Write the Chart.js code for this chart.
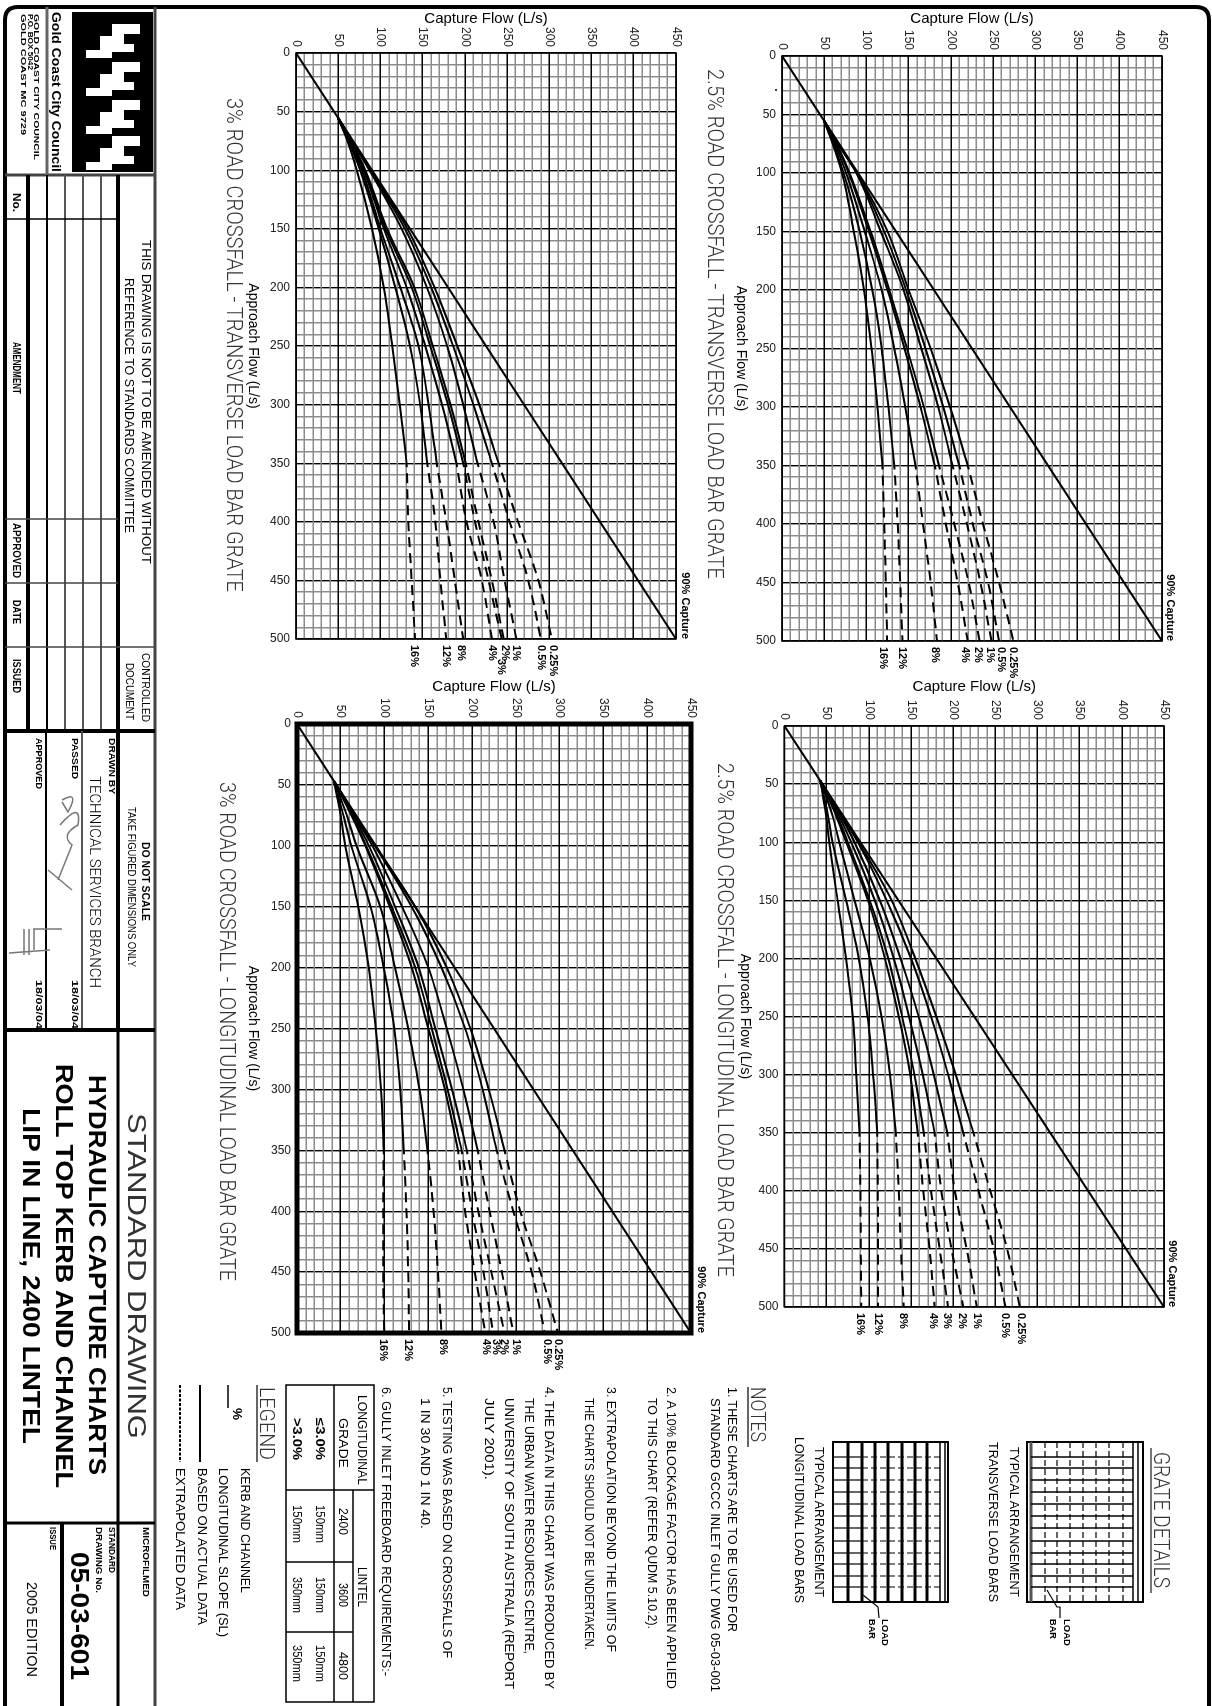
<!DOCTYPE html>
<html>
<head>
<meta charset="utf-8">
<title>Hydraulic capture charts</title>
<script src="https://cdn.jsdelivr.net/npm/chart.js@4/dist/chart.umd.min.js"></script>
<style>
    html, body { margin: 0; padding: 0; background: #fff; overflow: hidden; width: 1212px; height: 1706px; }
    /* the drawing is a landscape sheet turned a quarter turn clockwise */
    #sheet { position: absolute; left: 0; top: 0; width: 1706px; height: 1212px; transform-origin: 0 0; transform: translate(1212px, 0) rotate(90deg); }
    #sheet canvas { position: absolute; }
    #overlay { position: absolute; left: 0; top: 0; }
</style>
</head>
<body>
<div id="sheet">
    <canvas id="chartTR"></canvas>
    <canvas id="chartTL"></canvas>
    <canvas id="chartBR"></canvas>
    <canvas id="chartBL"></canvas>
</div>
<svg id="overlay" width="1212" height="1706" xmlns="http://www.w3.org/2000/svg"></svg>
<script>
// Approach flow stations the curves were read at (L/s)
const approachDash = [350, 400, 450, 500];
const approachTransverse = [55, 75, 100, 150, 200, 250, 300, 350];
const approachLongitudinal = [47, 75, 100, 150, 200, 250, 300, 350];
const captureLineApproach = [0, 500];
const captureLineValues = [0, 450];

const slopes8 = ['16%', '12%', '8%', '4%', '2%', '1%', '0.5%', '0.25%'];
const slopes9 = ['16%', '12%', '8%', '4%', '3%', '2%', '1%', '0.5%', '0.25%'];

// 2.5% crossfall, transverse load bar
const trSolid = [
    [49.5, 60, 71, 85, 97, 106, 113, 119],
    [49.5, 61, 73, 92, 107, 118, 126, 133],
    [49.5, 62.5, 76, 98, 118, 133, 146, 158],
    [49.5, 64, 79, 103, 125, 145, 164, 181],
    [49.5, 64.5, 80, 105, 127, 148, 168, 186],
    [49.5, 66, 88, 117, 144, 165, 185, 202],
    [49.5, 66.5, 88.5, 121, 147, 170, 191, 210],
    [49.5, 67, 89, 125, 150, 176, 199, 220]
];
const trDash = [
    [119, 121, 123, 124.5],
    [133, 137, 140, 142.6],
    [158, 167, 176, 183.6],
    [181, 194, 208, 220],
    [186, 204, 221, 234],
    [202, 219, 235, 248],
    [210, 226, 244, 257],
    [220, 238, 257, 274]
];
const trLabelAt = [120, 142, 181, 217, 232, 246, 259, 274];

// 3% crossfall, transverse load bar
const tlSolid = [
    [49.5, 61, 72, 90, 104, 114, 123, 131],
    [49.5, 62, 76, 98, 117.6, 135, 147, 155.5],
    [49.5, 63, 78, 100, 123.5, 145, 157, 166.6],
    [49.5, 64, 80, 104, 131, 153, 173, 190],
    [49.5, 64.5, 81, 106, 137, 159, 180, 198],
    [49.5, 65, 82, 108, 140, 162, 183, 201],
    [49.5, 66, 87, 125, 155, 179, 198, 215],
    [49.5, 66.5, 88, 129, 160, 186, 210, 232],
    [49.5, 67, 89, 132, 164, 191, 217, 240]
];
const tlDash = [
    [131, 133, 137, 141],
    [155.5, 165, 171, 178],
    [166.6, 178, 188, 198],
    [190, 202, 220, 232],
    [198, 212, 228, 243.6],
    [201, 216, 232, 246],
    [215, 234, 247, 261],
    [232, 253, 275, 290],
    [240, 263, 287, 303]
];
const tlLabelAt = [140, 178, 196, 232, 243, 247, 261, 290, 304];

// 2.5% crossfall, longitudinal load bar
const brSolid = [
    [42.3, 49, 53, 63, 73, 81, 85, 89],
    [42.3, 51, 57, 73, 88, 98.5, 105, 110],
    [42.3, 56, 65, 83, 101, 115, 125, 132],
    [42.3, 60, 73, 99, 119, 135.5, 149, 158],
    [42.3, 61, 75, 101, 123, 139.5, 154, 165],
    [42.3, 63, 79, 107, 129.5, 147.6, 164, 178],
    [42.3, 65, 83, 113, 137.5, 159, 177, 193],
    [42.3, 66, 87, 121, 150, 173.7, 194, 212],
    [42.3, 66.5, 88, 127, 155, 180, 203, 224]
];
const brDash = [
    [89, 90, 90.5, 91],
    [110, 110.6, 111, 111],
    [132, 135.5, 138, 141.5],
    [158, 164.5, 172, 178],
    [165, 173.7, 184, 194],
    [178, 186, 198, 212],
    [193, 202, 216, 228],
    [212, 230, 248, 262],
    [224, 244, 264, 279]
];
const brLabelAt = [89, 111, 141, 176, 193, 211, 228, 262, 280];

// 3% crossfall, longitudinal load bar
const blSolid = [
    [42.3, 50, 55, 70, 82, 90, 96, 99],
    [42.3, 53, 62, 84, 99, 111, 118, 122],
    [42.3, 57, 68, 95, 112, 127, 140, 149],
    [42.3, 62, 78, 106, 131, 150, 169, 184],
    [42.3, 63, 79, 108, 135, 154, 172, 188],
    [42.3, 64, 82, 112, 139, 158, 177, 194],
    [42.3, 65, 86, 120, 150, 171, 190, 206.5],
    [42.3, 66, 89, 131, 165, 192, 212, 228],
    [42.3, 66.5, 89.5, 135, 171, 198, 219, 237]
];
const blDash = [
    [99, 98.5, 98.5, 99.6],
    [122, 125, 127, 128],
    [149, 156, 161, 165],
    [184, 192, 203, 215],
    [188, 200, 213, 224],
    [194, 207, 222, 237],
    [206.5, 220, 234, 247],
    [228, 247, 268, 283],
    [237, 255, 278, 298]
];
const blLabelAt = [98, 127, 167, 216, 227, 237, 250, 285, 298];

const NARROW = '"Liberation Sans Narrow", "Liberation Sans", sans-serif';

// Frame round the plot, slope labels past the 500 line, "90% Capture"
const drawingMarks = {
    id: 'drawingMarks',
    afterDatasetsDraw(chart, args, opts) {
        const { ctx, chartArea, scales } = chart;
        ctx.save();
        ctx.strokeStyle = '#000';
        ctx.lineWidth = opts.frameWidth;
        ctx.strokeRect(chartArea.left, chartArea.top, chartArea.right - chartArea.left, chartArea.bottom - chartArea.top);

        ctx.fillStyle = '#000';
        ctx.font = 'bold 11px ' + NARROW;
        ctx.textBaseline = 'middle';
        ctx.textAlign = 'left';
        opts.slopes.forEach((slope, i) => {
            const shift = (opts.labelShift && opts.labelShift[i]) || 0;
            ctx.fillText(slope, chartArea.right + 6 + shift, scales.y.getPixelForValue(opts.labelAt[i]));
        });

        ctx.textAlign = 'right';
        ctx.fillText('90% Capture', chartArea.right, chartArea.top - opts.captureGap);
        ctx.restore();
    }
};

function toPoints(xs, ys) {
    return xs.map((x, i) => ({ x: x, y: ys[i] }));
}

function createPanel(cfg) {
    const canvas = document.getElementById(cfg.id);
    canvas.width = cfg.width;
    canvas.height = cfg.height;
    canvas.style.width = cfg.width + 'px';
    canvas.style.height = cfg.height + 'px';
    canvas.style.left = cfg.left + 'px';
    canvas.style.top = cfg.top + 'px';

    const datasets = [{
        label: '90% Capture',
        data: toPoints(captureLineApproach, captureLineValues),
        borderColor: '#000',
        borderWidth: 2,
        pointRadius: 0
    }];
    cfg.solid.forEach((row, i) => {
        datasets.push({
            label: cfg.slopes[i],
            data: toPoints(cfg.approach, row),
            borderColor: '#000',
            borderWidth: 2,
            pointRadius: 0,
            cubicInterpolationMode: 'monotone'
        });
    });
    cfg.dash.forEach((row, i) => {
        datasets.push({
            label: cfg.slopes[i] + ' extrapolated',
            data: toPoints(approachDash, row),
            borderColor: '#000',
            borderWidth: 2,
            borderDash: [10, 6],
            borderDashOffset: 6,
            pointRadius: 0,
            cubicInterpolationMode: 'monotone'
        });
    });

    const gridColor = ctx => (ctx.tick && ctx.tick.value % 50 === 0) ? '#000' : '#8c8c8c';
    const gridWidth = ctx => (ctx.tick && ctx.tick.value % 50 === 0) ? 1.4 : 1.5;
    const tickLabel = value => (value % 50 === 0 ? String(value) : '');

    return new Chart(canvas, {
        type: 'line',
        data: { datasets: datasets },
        plugins: [drawingMarks],
        options: {
            responsive: false,
            animation: false,
            devicePixelRatio: 1,
            parsing: false,
            layout: { padding: { top: cfg.plot.top, right: cfg.plot.right, left: 0, bottom: 0 } },
            plugins: {
                legend: { display: false },
                tooltip: { enabled: false },
                drawingMarks: {
                    frameWidth: cfg.frameWidth,
                    slopes: cfg.slopes,
                    labelAt: cfg.labelAt,
                    labelShift: cfg.labelShift,
                    captureGap: cfg.captureGap
                }
            },
            scales: {
                x: {
                    type: 'linear',
                    min: 0,
                    max: 500,
                    afterFit: s => { s.height = cfg.plot.bottom; },
                    grid: { color: gridColor, lineWidth: gridWidth, drawTicks: false },
                    border: { display: false },
                    ticks: {
                        stepSize: 10,
                        autoSkip: false,
                        minRotation: 90,
                        maxRotation: 90,
                        padding: 6,
                        color: '#222',
                        font: { family: '"Liberation Sans", sans-serif', size: 12 },
                        callback: tickLabel
                    },
                    title: {
                        display: true,
                        text: 'Approach Flow (L/s)',
                        color: '#000',
                        font: { family: NARROW, size: 14 },
                        padding: { top: 0, bottom: 2 }
                    }
                },
                y: {
                    type: 'linear',
                    min: 0,
                    max: 450,
                    afterFit: s => { s.width = cfg.plot.left; },
                    grid: { color: gridColor, lineWidth: gridWidth, drawTicks: false },
                    border: { display: false },
                    ticks: {
                        stepSize: 10,
                        autoSkip: false,
                        padding: 6,
                        color: '#222',
                        font: { family: NARROW, size: 12 },
                        callback: tickLabel
                    },
                    title: {
                        display: true,
                        text: 'Capture Flow (L/s)',
                        color: '#000',
                        font: { family: NARROW, size: 15 },
                        padding: { top: 2, bottom: 0 }
                    }
                }
            }
        }
    });
}

createPanel({
    id: 'chartTR', left: 8, top: 6, width: 672, height: 476,
    plot: { left: 48, right: 39, top: 44, bottom: 52 },
    approach: approachTransverse, solid: trSolid, dash: trDash, slopes: slopes8, labelAt: trLabelAt,
    frameWidth: 1.5, captureGap: 8
});
createPanel({
    id: 'chartTL', left: 8, top: 500, width: 672, height: 470,
    plot: { left: 45, right: 41, top: 36, bottom: 54 },
    approach: approachTransverse, solid: tlSolid, dash: tlDash, slopes: slopes9, labelAt: tlLabelAt,
    labelShift: [0, 0, 0, 0, 14, 0, 0, 0, 0],
    frameWidth: 1.5, captureGap: 9
});
createPanel({
    id: 'chartBR', left: 676, top: 4, width: 681, height: 474,
    plot: { left: 50, right: 50, top: 44, bottom: 50.5 },
    approach: approachLongitudinal, solid: brSolid, dash: brDash, slopes: slopes9, labelAt: brLabelAt,
    frameWidth: 1.5, captureGap: 8
});
createPanel({
    id: 'chartBL', left: 676, top: 500, width: 702, height: 470,
    plot: { left: 48, right: 45, top: 21, bottom: 55 },
    approach: approachLongitudinal, solid: blSolid, dash: blDash, slopes: slopes9, labelAt: blLabelAt,
    frameWidth: 5, captureGap: 10
});

// ---- everything round the charts is drawn in window coordinates ----
const svg = document.getElementById('overlay');
const SVG_NS = 'http://www.w3.org/2000/svg';

function el(name, attrs) {
    const node = document.createElementNS(SVG_NS, name);
    Object.keys(attrs).forEach(k => node.setAttribute(k, attrs[k]));
    svg.appendChild(node);
    return node;
}

function line(x1, y1, x2, y2, w, color, dash) {
    const attrs = { x1, y1, x2, y2, stroke: color || '#000', 'stroke-width': w || 1 };
    if (dash) attrs['stroke-dasharray'] = dash;
    return el('line', attrs);
}

// Text reads downward; x is the middle of the letters, y0 to y1 its extent
function text(str, x, y0, y1, size, o) {
    o = o || {};
    const node = el('text', {
        transform: `translate(${x - size * 0.36}, ${y0}) rotate(90)`,
        'font-family': o.family || '"Liberation Sans", sans-serif',
        'font-size': size,
        'font-weight': o.weight || 'normal',
        fill: o.color || '#000',
        textLength: y1 - y0,
        lengthAdjust: 'spacingAndGlyphs'
    });
    node.textContent = str;
    return node;
}

const THIN = 'Roboto, "Liberation Sans", sans-serif';

// Chart headings
const headingStyle = { family: THIN, weight: 300, color: '#333' };
text('2.5% ROAD CROSSFALL - TRANSVERSE LOAD BAR GRATE', 716, 69, 579, 22, headingStyle);
text('3% ROAD CROSSFALL - TRANSVERSE LOAD BAR GRATE', 235, 98, 592, 22, headingStyle);
text('2.5% ROAD CROSSFALL - LONGITUDINAL LOAD BAR GRATE', 726, 763, 1277, 22, headingStyle);
text('3% ROAD CROSSFALL - LONGITUDINAL LOAD BAR GRATE', 228, 782, 1281, 22, headingStyle);
el('circle', { cx: 776, cy: 90, r: 1, fill: '#000' });

// Sheet border
el('path', { d: 'M5 1706 L5 20 Q5 7 18 7 L1196 7 Q1209 7 1209 20 L1209 1706', fill: 'none', stroke: '#000', 'stroke-width': 4 });

// Title block rules
line(155, 7, 155, 1706, 3, '#444');
line(5, 175, 155, 175, 3, '#444');
line(47, 7, 47, 175, 3, '#666');
line(118, 175, 118, 1030, 4);
line(28, 175, 28, 731, 4);
line(47, 175, 47, 731, 2);
line(65, 175, 65, 731, 2, '#555');
line(83, 175, 83, 731, 2, '#555');
line(101, 175, 101, 731, 2, '#555');
line(5, 219, 118, 219, 1.5);
line(5, 519, 118, 519, 1.5, '#444');
line(5, 583, 118, 583, 1.5, '#444');
line(5, 647, 155, 647, 1.5, '#444');
line(5, 731, 155, 731, 4);
line(82, 731, 82, 1030, 2, '#555');
line(46, 731, 46, 1030, 2);
line(5, 1030, 155, 1030, 4);
line(118, 1030, 118, 1706, 3);
line(5, 1523, 155, 1523, 3);
line(62, 1523, 62, 1706, 4);

// Logo
el('rect', { x: 72, y: 12, width: 81, height: 160, fill: '#000' });
[24, 62, 100, 136].forEach(y0 => {
    el('polygon', {
        fill: '#fff',
        points: `86,${y0 + 26} 100,${y0 + 26} 100,${y0 + 12} 112,${y0 + 12} 112,${y0} 140,${y0} 140,${y0 + 10} 124,${y0 + 10} 124,${y0 + 20} 134,${y0 + 20} 134,${y0 + 28} 112,${y0 + 28} 112,${y0 + 34} 86,${y0 + 34}`
    });
});
text('Gold Coast City Council', 57, 12, 172, 13, { weight: 'bold' });
text('GOLD COAST CITY COUNCIL', 37, 14, 160, 8, { weight: 'bold', family: NARROW });
text('P.O. BOX 5042', 31, 14, 70, 8, { weight: 'bold', family: NARROW });
text('GOLD COAST MC 9729', 24, 14, 135, 8, { weight: 'bold', family: NARROW });

// Amendment table
const cellStyle = { family: NARROW, weight: 'bold' };
text('No.', 17, 193, 212, 10, cellStyle);
text('AMENDMENT', 17, 342, 394, 10, cellStyle);
text('APPROVED', 17, 523, 578, 10, cellStyle);
text('DATE', 17, 600, 624, 10, cellStyle);
text('ISSUED', 17, 659, 693, 10, cellStyle);

text('THIS DRAWING IS NOT TO BE AMENDED WITHOUT', 146, 240, 564, 12, { family: NARROW });
text('REFERENCE TO STANDARDS COMMITTEE', 129, 278, 533, 12, { family: NARROW });
text('CONTROLLED', 146, 653, 722, 11, { family: NARROW });
text('DOCUMENT', 130, 663, 720, 11, { family: NARROW });

text('DO NOT SCALE', 146, 842, 921, 11, { family: NARROW, weight: 'bold' });
text('TAKE FIGURED DIMENSIONS ONLY', 132, 807, 967, 11, { family: NARROW });
text('DRAWN BY', 112, 738, 794, 9, cellStyle);
text('TECHNICAL SERVICES BRANCH', 95, 776, 988, 14, { family: THIN, weight: 300 });
text('18/03/04', 75, 980, 1029, 9, cellStyle);
text('PASSED', 75, 738, 779, 9, cellStyle);
text('APPROVED', 39, 738, 789, 9, cellStyle);
text('18/03/04', 39, 980, 1029, 9, cellStyle);

// Signatures
el('path', { d: 'M62 800 Q80 790 68 812 L62 802 M60 825 Q82 800 78 825 Q60 835 72 845 L58 880 M48 870 L72 890', fill: 'none', stroke: '#777', 'stroke-width': 1.5 });
el('path', { d: 'M9 953 L50 950 M24 929 L24 955 M29 929 L29 955 M33 929 L62 929 M34 929 L34 950', fill: 'none', stroke: '#777', 'stroke-width': 1.5 });

// Drawing title
text('STANDARD DRAWING', 137, 1113, 1439, 26, { color: '#333' });
text('HYDRAULIC CAPTURE CHARTS', 98, 1075, 1475, 24, { weight: 'bold' });
text('ROLL TOP KERB AND CHANNEL', 65, 1064, 1488, 24, { weight: 'bold' });
text('LIP IN LINE, 2400 LINTEL', 32, 1108, 1444, 24, { weight: 'bold' });

text('MICROFILMED', 146, 1527, 1597, 9, cellStyle);
text('STANDARD', 112, 1527, 1573, 9, cellStyle);
text('DRAWING  No.', 99, 1527, 1593, 9, cellStyle);
text('05-03-601', 80, 1552, 1680, 25, { weight: 'bold' });
text('ISSUE', 53, 1527, 1550, 9, cellStyle);
text('2005 EDITION', 32, 1582, 1677, 15, {});

// Legend
const noteStyle = { family: NARROW };
text('LEGEND', 267, 1387, 1460, 20, { family: THIN, weight: 300, color: '#333' });
line(257, 1385, 257, 1462, 2, '#666');
line(228, 1385, 228, 1408, 1.5);
text('%', 238, 1408, 1420, 13, { weight: 'bold' });
line(200, 1385, 200, 1462, 2);
line(180, 1385, 180, 1462, 2, '#000', '3 1.5');
text('KERB AND CHANNEL', 245, 1468, 1593, 12, noteStyle);
text('LONGITUDINAL SLOPE (SL)', 223, 1468, 1637, 12, noteStyle);
text('BASED ON ACTUAL DATA', 202, 1468, 1625, 12, noteStyle);
text('EXTRAPOLATED DATA', 180, 1468, 1610, 12, noteStyle);

// Freeboard table
el('rect', { x: 286, y: 1385, width: 88, height: 317, fill: 'none', stroke: '#000', 'stroke-width': 1.5 });
line(334, 1385, 334, 1702, 1.5);
line(353, 1490, 353, 1702, 1.5);
line(286, 1490, 374, 1490, 1.5);
line(286, 1562, 353, 1562, 1.5);
line(286, 1632, 353, 1632, 1.5);
text('LONGITUDINAL', 362, 1395, 1485, 12, noteStyle);
text('GRADE', 343, 1418, 1468, 12, noteStyle);
text('\u22643.0%', 320, 1418, 1460, 12, { family: NARROW, weight: 'bold' });
text('>3.0%', 297, 1418, 1460, 12, { family: NARROW, weight: 'bold' });
text('LINTEL', 362, 1567, 1607, 12, noteStyle);
text('2400', 343, 1508, 1535, 12, noteStyle);
text('150mm', 320, 1505, 1543, 12, noteStyle);
text('150mm', 297, 1505, 1543, 12, noteStyle);
text('3600', 343, 1583, 1607, 12, noteStyle);
text('150mm', 320, 1577, 1613, 12, noteStyle);
text('350mm', 297, 1577, 1613, 12, noteStyle);
text('4800', 343, 1652, 1680, 12, noteStyle);
text('150mm', 320, 1645, 1682, 12, noteStyle);
text('350mm', 297, 1645, 1682, 12, noteStyle);

// Notes
text('NOTES', 758, 1387, 1442, 20, { family: THIN, weight: 300, color: '#333' });
line(748, 1387, 748, 1447, 2, '#666');
text('1. THESE CHARTS ARE TO BE USED FOR', 733, 1387, 1632, 13, noteStyle);
text('STANDARD GCCC INLET GULLY DWG 05-03-001', 716, 1398, 1692, 13, noteStyle);
text('2. A 10% BLOCKAGE FACTOR HAS BEEN APPLIED', 672, 1387, 1689, 13, noteStyle);
text('TO THIS CHART (REFER QUDM 5.10.2).', 653, 1398, 1629, 13, noteStyle);
text('3. EXTRAPOLATION BEYOND THE LIMITS OF', 612, 1387, 1652, 13, noteStyle);
text('THE CHARTS SHOULD NOT BE UNDERTAKEN.', 590, 1398, 1650, 13, noteStyle);
text('4. THE DATA IN THIS CHART WAS PRODUCED BY', 550, 1387, 1689, 13, noteStyle);
text('THE URBAN WATER RESOURCES CENTRE,', 530, 1398, 1654, 13, noteStyle);
text('UNIVERSITY OF SOUTH AUSTRALIA (REPORT', 510, 1398, 1689, 13, noteStyle);
text('JULY 2001).', 490, 1398, 1480, 13, noteStyle);
text('5. TESTING WAS BASED ON CROSSFALLS OF', 448, 1387, 1658, 13, noteStyle);
text('1 IN 30 AND 1 IN 40.', 426, 1398, 1529, 13, noteStyle);
text('6. GULLY INLET FREEBOARD REQUIREMENTS:-', 387, 1387, 1676, 13, noteStyle);

// Grate details
text('GRATE DETAILS', 1162, 1452, 1588, 22, { family: THIN, weight: 300, color: '#333' });
line(1151, 1448, 1151, 1593, 2, '#777');

const grateRows = [1457, 1468, 1480, 1492, 1504, 1516, 1528, 1541, 1553, 1564, 1576, 1587];
const grateColsT = [1045, 1057, 1070, 1083, 1096, 1109, 1123];
const grateColsL = [848, 862, 875, 888, 902, 915, 927];

// Transverse load bars
el('rect', { x: 1027, y: 1442, width: 116, height: 160, fill: 'none', stroke: '#000', 'stroke-width': 2 });
line(1031, 1442, 1031, 1602, 3, '#555');
line(1133, 1442, 1133, 1602, 1.5);
line(1138, 1442, 1138, 1602, 1.5);
grateRows.forEach(y => line(1031, y, 1133, y, 1.3));
grateColsT.forEach(x => line(x, 1442, x, 1602, 1.2, '#000', '6 3'));
el('polyline', { points: '1047,1590 1057,1607 1060,1607 1060,1618', fill: 'none', stroke: '#000', 'stroke-width': 1.2 });
text('TYPICAL ARRANGEMENT', 1015, 1447, 1597, 13, noteStyle);
text('TRANSVERSE LOAD BARS', 994, 1442, 1602, 13, noteStyle);
text('LOAD', 1067, 1619, 1646, 9, cellStyle);
text('BAR', 1053, 1619, 1639, 9, cellStyle);

// Longitudinal load bars
el('rect', { x: 833, y: 1442, width: 115, height: 160, fill: 'none', stroke: '#000', 'stroke-width': 2 });
grateColsL.forEach(x => line(x, 1442, x, 1602, 3));
line(940, 1442, 940, 1602, 1.5);
line(945, 1442, 945, 1602, 1.5);
grateRows.forEach(y => {
    line(833, y, 862, y, 1.2);
    line(862, y, 940, y, 1.2, '#000', '6 3');
});
el('polyline', { points: '863,1595 878,1607 879,1618', fill: 'none', stroke: '#000', 'stroke-width': 1.2 });
text('TYPICAL ARRANGEMENT', 820, 1447, 1597, 13, noteStyle);
text('LONGITUDINAL LOAD BARS', 800, 1437, 1603, 13, noteStyle);
text('LOAD', 885, 1619, 1646, 9, cellStyle);
text('BAR', 872, 1619, 1639, 9, cellStyle);
</script>
</body>
</html>
